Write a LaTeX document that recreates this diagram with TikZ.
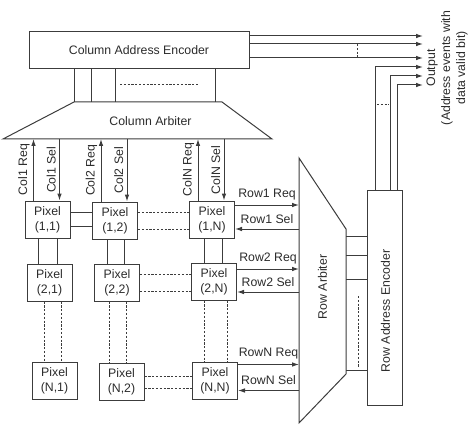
\documentclass[tikz,border=0pt]{standalone}
\usepackage{fontspec}
\setmainfont{Liberation Sans}
\usetikzlibrary{arrows.meta,positioning,calc}
\definecolor{wire}{HTML}{3C3C3C}
\definecolor{ink}{HTML}{2B2B2B}

\begin{document}
\begin{tikzpicture}[x=1pt,y=-1pt,line width=1pt,draw=wire,
  every node/.style={font=\fontsize{12.3}{15}\selectfont,text=ink},
  block/.style={draw=wire,line width=1pt,inner sep=0pt},
  pixel/.style={block,minimum width=45pt,minimum height=37pt,align=center},
  sig/.style={-{Latex[length=7pt,width=4.6pt]}},
  dotline/.style={dash pattern=on 2.2pt off 1.6pt}]
\useasboundingbox (0,0) rectangle (474,425);
% encoders and arbiters
\node[block,minimum width=220pt,minimum height=37pt] (cenc) at (139,50.5) {Column Address Encoder};
\draw (3,139) coordinate (cab) -- (74,102) -- (222,102) -- (272,139) -- cycle;
\node (carbl) at (150.5,121) {Column Arbiter};
\draw (299,158) coordinate (rab) -- (346,229) -- (346,374) -- (299,423) -- cycle;
\node[rotate=90] (rarbl) at (322.5,287) {Row Arbiter};
\node[block,minimum width=35pt,minimum height=215pt] (renc) at (384.5,297.5) {};
\node[rotate=90] (rencl) at ($(renc.center)+(1,13.5)$) {Row Address Encoder};
\foreach \x in {74,91,115,215} \draw (cenc.south -| \x,0) -- (\x,102);
\draw[dotline] (120,85) -- (198,85);
\foreach \y in {236,255,279,370} \draw (346,\y) -- (renc.west |- 0,\y);
\draw[dotline] (358,296) -- (358,367);
% pixel array
\node[pixel] (p11) at (47.5,219.5) {Pixel\\(1,1)};
\node[pixel] (p12) at (115,220.5) {Pixel\\(1,2)};
\node[pixel] (p1N) at (212,219.5) {Pixel\\(1,N)};
\node[pixel] (p21) at (49.5,282.5) {Pixel\\(2,1)};
\node[pixel] (p22) at (117,282.5) {Pixel\\(2,2)};
\node[pixel] (p2N) at (214,281.5) {Pixel\\(2,N)};
\node[pixel] (pN1) at (54.5,381) {Pixel\\(N,1)};
\node[pixel] (pN2) at (121.5,382) {Pixel\\(N,2)};
\node[pixel] (pNN) at (215,380.5) {Pixel\\(N,N)};
\foreach \a/\b/\s/\o in {p11/p12/solid/7,p12/p1N/dotline/8.5,p22/p2N/dotline/8.5,pN2/pNN/dotline/6} {
  \path (\a.east) ++(0,-\o) coordinate (u) (\a.east) ++(0,\o) coordinate (v);
  \draw[\s] (u) -- (u -| \b.west) (v) -- (v -| \b.west);
}
\foreach \a/\b/\s/\l/\r in {p11/p21/solid/9.5/9.5,p12/p22/solid/8/9,p1N/p2N/solid/8/10,
    p21/pN1/dotline/5.5/11.5,p22/pN2/dotline/8/9,p2N/pNN/dotline/10/13} {
  \path (\a.south) ++(-\l,0) coordinate (u) (\a.south) ++(\r,0) coordinate (v);
  \draw[\s] (u) -- (u |- \b.north) (v) -- (v |- \b.north);
}
% column handshake
\foreach \p/\n in {p11/1,p12/2,p1N/N} {
  \path (\p.north) ++(-14,0) coordinate (rq) ++(26,0) coordinate (sl);
  \draw[sig] (rq) -- (rq |- cab) node[midway,rotate=90,above] {Col\n\ Req};
  \draw[sig] (sl |- cab) -- (sl) node[midway,rotate=90,above] {Col\n\ Sel};
}
% row handshake
\foreach \p/\n/\a/\b in {p1N/1/14.5/9.5,p2N/2/12.5/10.5,pNN/N/16/10} {
  \path (\p.east) ++(0,-\a) coordinate (rq) (\p.east) ++(0,\b) coordinate (sl);
  \draw[sig] (rq) -- (rq -| rab) node[midway,above=1.5pt] {Row\n\ Req};
  \draw[sig] (sl -| rab) -- (sl) node[midway,above=2pt] {Row\n\ Sel};
}
% outputs
\coordinate (o1) at (423,36); \coordinate (o2) at (423,44); \coordinate (o3) at (423,58);
\coordinate (o4) at (423,67); \coordinate (o5) at (423,76); \coordinate (o6) at (423,85);
\foreach \i in {1,2,3} \draw[sig] (cenc.east |- o\i) -- (o\i);
\path (renc.north west) ++(8.5,0) coordinate (e4) ++(15.5,0) coordinate (e5) ++(7,0) coordinate (e6);
\foreach \i in {4,5,6} \draw[sig] (e\i) |- (o\i);
\draw[dotline] (357,44) -- (357,58);
\draw[dotline] (377,105) -- (389,105);
\node[rotate=90,align=center] (outl) at (447,68) {Output\\(Address events with\\data valid bit)};
\end{tikzpicture}
\end{document}
